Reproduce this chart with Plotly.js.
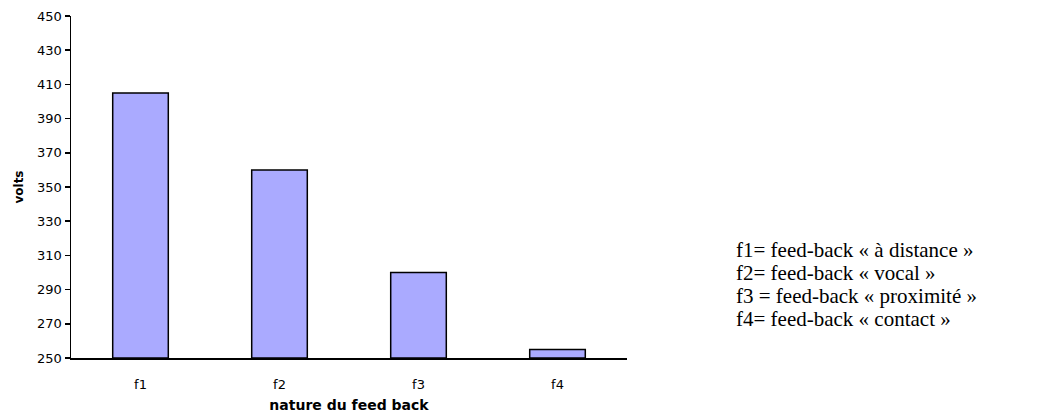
<!DOCTYPE html>
<html>
<head>
<meta charset="utf-8">
<script src="https://cdn.plot.ly/plotly-3.0.1.min.js"></script>
<style>html,body{margin:0;padding:0;background:#fff;}#chart{width:1040px;height:416px;}</style>
</head>
<body>
<div id="chart"></div>
<script>
const categories = ["f1", "f2", "f3", "f4"];
const volts = [405, 360, 300, 255];
const legendLines = [
  "f1= feed-back « à distance »",
  "f2= feed-back « vocal »",
  "f3 = feed-back « proximité »",
  "f4= feed-back « contact »"
];
const yTicks = [250, 270, 290, 310, 330, 350, 370, 390, 410, 430, 450];

const W = 1040, H = 416;
const margin = {l: 71, r: 413, t: 16, b: 58};
const plotH = H - margin.t - margin.b;
const plotW = W - margin.l - margin.r;
const lineCentersPx = [250, 273, 296, 319];

const annotations = legendLines.map((t, i) => ({
  text: t,
  xref: 'paper', yref: 'paper',
  x: (735 - margin.l) / plotW,
  y: (H - margin.b - lineCentersPx[i]) / plotH,
  xanchor: 'left', yanchor: 'middle',
  showarrow: false,
  borderpad: 0,
  font: {family: 'Liberation Serif, Times New Roman, serif', size: 21, color: '#000'}
}));

const trace = {
  type: 'bar',
  x: categories,
  y: volts.map(v => v - 250),
  base: 250,
  marker: {color: '#AAAAFF', line: {color: '#000', width: 1.5}},
  hoverinfo: 'x+y'
};

const layout = {
  width: W, height: H,
  margin: margin,
  paper_bgcolor: '#fff', plot_bgcolor: '#fff',
  showlegend: false,
  bargap: 0.6,
  font: {family: 'DejaVu Sans, Verdana, sans-serif', size: 13, color: '#000'},
  xaxis: {
    type: 'category',
    range: [-0.5, 3.5],
    showline: true, linecolor: '#000', linewidth: 1.5,
    ticks: '', showgrid: false, zeroline: false,
    ticklabelstandoff: 14,
    tickfont: {size: 13},
    title: {text: 'nature du feed back', font: {size: 14, weight: 'bold'}, standoff: 9}
  },
  yaxis: {
    range: [250, 450],
    tickvals: yTicks,
    ticktext: yTicks.map(String),
    showline: true, linecolor: '#000', linewidth: 1.5,
    ticks: 'outside', ticklen: 5, tickwidth: 1.5, tickcolor: '#000',
    showgrid: false, zeroline: false,
    tickfont: {size: 13},
    title: {text: 'volts', font: {size: 12, weight: 'bold'}, standoff: 11}
  },
  annotations: annotations
};

Plotly.newPlot('chart', [trace], layout, {displayModeBar: false, staticPlot: true});
</script>
</body>
</html>
